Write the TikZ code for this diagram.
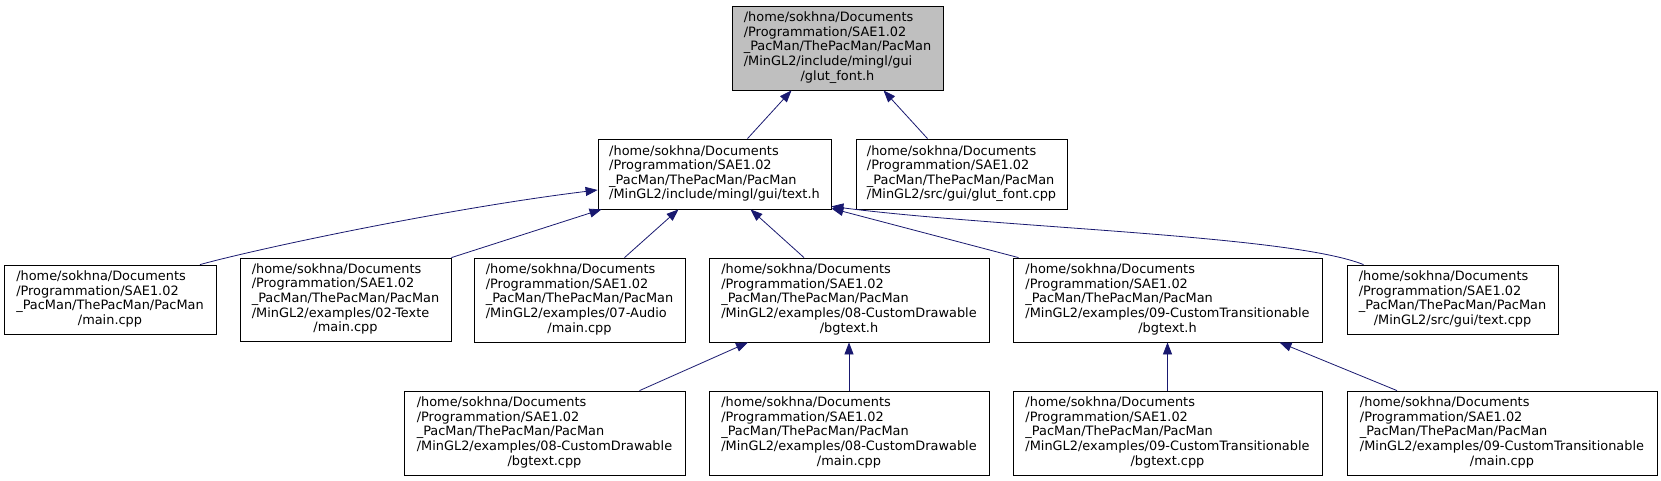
\documentclass[tikz,border=0pt]{standalone}
\usepackage{fontspec}
\setmainfont{DejaVu Sans}
\usetikzlibrary{arrows.meta}
\definecolor{DoxEdge}{HTML}{191970}
\definecolor{DoxGrey}{HTML}{BFBFBF}
\newcommand{\pacprefix}{/home/sokhna/Documents\\/Programmation/SAE1.02\\\_PacMan/ThePacMan/PacMan}
\newcommand{\srcpath}[2]{\begin{tabular}{@{}l@{}}#1\\\multicolumn{1}{@{}c@{}}{#2}\end{tabular}}

\begin{document}
\begin{tikzpicture}[>={Triangle[length=12pt, width=9pt]}, x=1pt, y=-1pt,
  file/.style={draw=black, line width=0.8pt, fill=white, inner sep=0pt,
               font=\fontsize{12.9}{14.6}\selectfont},
  dep/.style={->, draw=DoxEdge, line width=0.8pt}]
  \path[fill=white] (0,0) rectangle (1661,481);
  \node[file, fill=DoxGrey, minimum width=211pt, minimum height=84pt] (root) at (837.5,48) {\srcpath{\pacprefix\\/MinGL2/include/mingl/gui}{/glut\_font.h}};
  % second level
  \node[file, minimum width=233pt, minimum height=70pt] (texth) at (714.5,174) {\srcpath{\pacprefix}{/MinGL2/include/mingl/gui/text.h}};
  \node[file, minimum width=211pt, minimum height=70pt] (glutcpp) at (961.5,174) {\srcpath{\pacprefix}{/MinGL2/src/gui/glut\_font.cpp}};
  % users of text.h
  \node[file, minimum width=212pt, minimum height=69pt] (main) at (110,299.5) {\srcpath{\pacprefix}{/main.cpp}};
  \node[file, minimum width=211pt, minimum height=83pt] (texte) at (345.5,299.5) {\srcpath{\pacprefix\\/MinGL2/examples/02-Texte}{/main.cpp}};
  \node[file, minimum width=211pt, minimum height=84pt] (audio) at (579.5,300) {\srcpath{\pacprefix\\/MinGL2/examples/07-Audio}{/main.cpp}};
  \node[file, minimum width=280pt, minimum height=84pt] (cdhdr) at (849,300) {\srcpath{\pacprefix\\/MinGL2/examples/08-CustomDrawable}{/bgtext.h}};
  \node[file, minimum width=309pt, minimum height=84pt] (cthdr) at (1167.5,300) {\srcpath{\pacprefix\\/MinGL2/examples/09-CustomTransitionable}{/bgtext.h}};
  \node[file, minimum width=211pt, minimum height=69pt] (textcpp) at (1452.5,299.5) {\srcpath{\pacprefix}{/MinGL2/src/gui/text.cpp}};
  % users of bgtext.h
  \node[file, minimum width=281pt, minimum height=84pt] (cdcpp) at (544.5,433) {\srcpath{\pacprefix\\/MinGL2/examples/08-CustomDrawable}{/bgtext.cpp}};
  \node[file, minimum width=280pt, minimum height=84pt] (cdmain) at (849,433) {\srcpath{\pacprefix\\/MinGL2/examples/08-CustomDrawable}{/main.cpp}};
  \node[file, minimum width=309pt, minimum height=84pt] (ctcpp) at (1167.5,433) {\srcpath{\pacprefix\\/MinGL2/examples/09-CustomTransitionable}{/bgtext.cpp}};
  \node[file, minimum width=310pt, minimum height=84pt] (ctmain) at (1502,433) {\srcpath{\pacprefix\\/MinGL2/examples/09-CustomTransitionable}{/main.cpp}};
  % into glut_font.h
  \draw[dep] ([xshift=33pt]texth.north) -- ([xshift=-46pt]root.south);
  \draw[dep] ([xshift=-34pt]glutcpp.north) -- ([xshift=46pt]root.south);
  % into text.h
  \draw[dep] ([xshift=90pt]main.north) .. controls (260,248) and (450,208) .. ([yshift=-16pt]texth.west);
  \draw[dep] (texte.north east) -- ([xshift=-113pt]texth.south);
  \draw[dep] ([xshift=45pt]audio.north) -- ([xshift=-36pt]texth.south);
  \draw[dep] ([xshift=-45pt]cdhdr.north) -- ([xshift=36pt]texth.south);
  \draw[dep] ([xshift=-149pt]cthdr.north) -- ([yshift=1pt]texth.south east);
  \draw[dep] ([xshift=-89pt]textcpp.north) .. controls (1290,235) and (1000,228) .. ([yshift=3pt]texth.south east);
  % into bgtext.h
  \draw[dep] ([xshift=95pt]cdcpp.north) -- ([xshift=-101pt]cdhdr.south);
  \draw[dep] (cdmain) -- (cdhdr);
  \draw[dep] (ctcpp) -- (cthdr);
  \draw[dep] ([xshift=-105pt]ctmain.north) -- ([xshift=112pt]cthdr.south);
\end{tikzpicture}
\end{document}
